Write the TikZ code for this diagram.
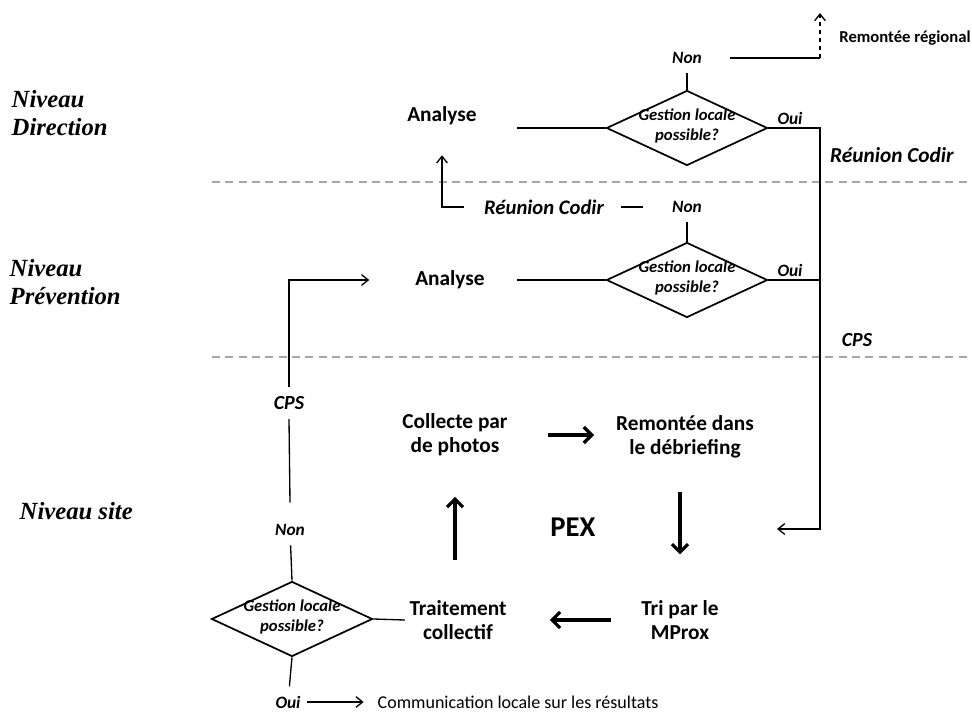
\documentclass[tikz,border=0pt]{standalone}
\usepackage{fontspec}
\setmainfont{Carlito}
\newfontfamily\lvlfont{Liberation Serif}
\usetikzlibrary{arrows.meta, positioning, shapes.geometric}

% text set inside the decision diamonds
\newcommand{\gestion}{\smash{\makebox[0pt]{\raisebox{-2pt}{\bfseries\itshape\begin{tabular}{@{}c@{}}Gestion locale\\possible?\end{tabular}}}}}

\begin{document}
\begin{tikzpicture}[x=0.75pt, y=-0.75pt,
    box/.style={align=center, font=\fontsize{16}{18}\selectfont\bfseries},
    decision/.style={diamond, draw, line width=1.3pt, inner sep=0pt,
      minimum width=120.75pt, minimum height=56.25pt,
      font=\fontsize{12.5}{14.5}\selectfont},
    tag/.style={font=\fontsize{13}{15}\selectfont\bfseries\itshape, inner xsep=2pt, inner ysep=7pt},
    bigtag/.style={font=\fontsize{15}{18}\selectfont\bfseries\itshape, inner xsep=2pt, inner ysep=7pt},
    level/.style={anchor=west, align=left, font=\lvlfont\fontsize{18.5}{21}\selectfont\bfseries\itshape},
    sep/.style={gray!70, line width=0.9pt, dash pattern=on 6pt off 4pt},
    flow/.style={line width=1pt},
    tip/.style={-{Straight Barb[length=5pt, width=8pt]}},
    bigarrow/.style={line width=2.4pt, -{Straight Barb[length=6pt, width=12pt]}}
  ]
  \useasboundingbox (0,0) rectangle (972,713);

  % level separators
  \draw[sep] (212,182) -- (972,182);
  \draw[sep] (212,357) -- (972,357);

  % levels
  \node[level] (lvdir) at (7,113) {Niveau\\Direction};
  \node[level] (lvprev) at (5,282) {Niveau\\Prévention};
  \node[level] (lvsite) at (15,511) {Niveau site};

  % Direction
  \node[box] (ana1) at (442,116) {Analyse};
  \node[decision] (gest1) at (687,128) {\gestion};
  \node[tag] (non1) at (687,58) {Non};
  \node[tag] (oui1) at (790,118) {Oui};
  \node[box, font=\fontsize{12.5}{15}\selectfont\bfseries] (reg) at (905,38) {Remontée régional};
  \node[bigtag, font=\fontsize{16}{19}\selectfont\bfseries\itshape] (codir1) at (892,155) {Réunion Codir};
  \coordinate (up1) at (820,58);
  \coordinate (up2) at (820,13);
  \coordinate (oui1r) at (820,128);
  \coordinate (turn) at (820,529);
  \coordinate (pin) at (777,529);

  \draw[flow, shorten >=27pt] (gest1.west) -- (gest1.west -| ana1.east);
  \draw[flow] (gest1.north) -- (non1);
  \draw[flow] ([xshift=19pt]non1.east) -- (up1);
  \draw[flow, tip, dashed] (up1) -- (up2);
  \draw[flow, tip] (gest1.east) -- (oui1r) -- (turn) -- (pin);

  % Prevention
  \node[box] (ana2) at (450,280) {Analyse};
  \node[decision] (gest2) at (687,280) {\gestion};
  \node[tag] (non2) at (687,207) {Non};
  \node[tag] (oui2) at (790,270) {Oui};
  \node[bigtag, font=\fontsize{15.5}{18}\selectfont\bfseries\itshape] (codir2) at (544,207) {Réunion Codir};
  \node[bigtag] (cps1) at (857,340) {CPS};

  \draw[flow] ([xshift=21pt]ana2.east) -- (gest2.west);
  \draw[flow] (gest2.north) -- (non2);
  \draw[flow] (gest2.east) -- (gest2.east -| oui1r);
  \draw[flow] ([xshift=-20pt]non2.west) -- ([xshift=11pt]codir2.east);
  \draw[flow, tip] ([xshift=-13pt]codir2.west) -| ([yshift=-19pt]ana1.south);

  % Site
  \node[bigtag] (cps2) at (289,403) {CPS};
  \node[tag] (non3) at (290,530) {Non};
  \node[decision] (gest3) at (292,619) {\gestion};
  \node[tag] (oui3) at (288,702) {Oui};
  \node[anchor=west, font=\fontsize{13.5}{16}\selectfont] (comm) at (373,702) {Communication locale sur les résultats};
  \node[box] (col) at (455,435) {Collecte par\\de photos};
  \node[box] (rem) at (685,437) {Remontée dans\\le débriefing};
  \node[box] (tri) at (680,620) {Tri par le\\MProx};
  \node[box] (trait) at (458,620) {Traitement\\collectif};
  \node[font=\fontsize{21.5}{24}\selectfont\bfseries] (pex) at (573,527) {PEX};

  \draw[flow] (gest3.north) -- (non3);
  \draw[flow] ([yshift=9pt]non3.north) -- (cps2.south);
  \draw[flow, tip] (cps2.north) |- ([xshift=-31pt]ana2.west);
  \draw[flow] (gest3.east) -- (trait.west);
  \draw[flow] (gest3.south) -- (oui3);
  \draw[flow, tip, shorten <=3pt, shorten >=7pt] (oui3.east) -- (comm.west);

  % PEX loop
  \draw[bigarrow, shorten <=27pt, shorten >=13pt] (col.east) -- (col.east -| rem.west);
  \draw[bigarrow, shorten <=22pt, shorten >=31pt] (tri.north |- rem.south) -- (tri.north);
  \draw[bigarrow, shorten <=19pt, shorten >=29pt] (tri.west) -- (trait.east);
  \draw[bigarrow, shorten <=27pt, shorten >=27pt] (col.south |- trait.north) -- (col.south);
\end{tikzpicture}
\end{document}
